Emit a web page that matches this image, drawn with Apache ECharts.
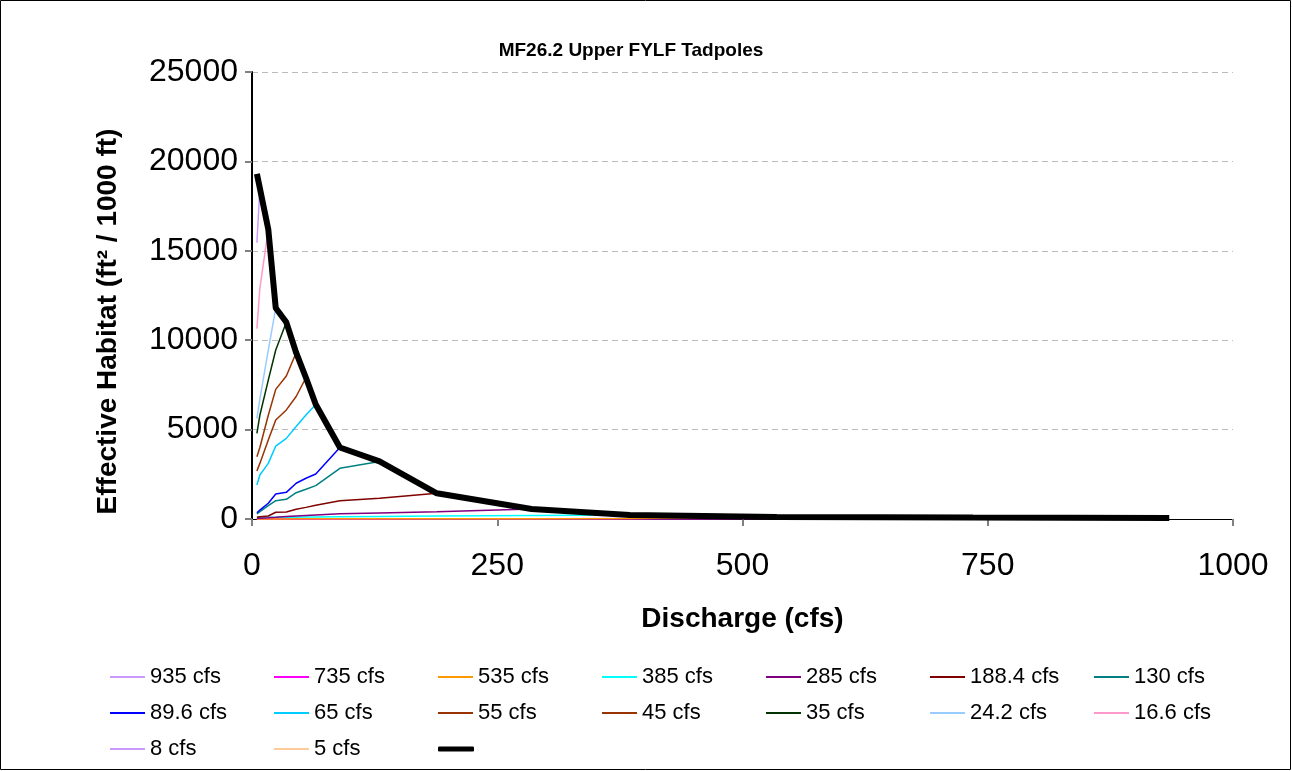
<!DOCTYPE html>
<html>
<head>
<meta charset="utf-8">
<script src="https://cdn.jsdelivr.net/npm/echarts@6/dist/echarts.min.js"></script>
<style>
html,body{margin:0;padding:0;background:#fff;}
#chart{width:1292px;height:771px;}
</style>
</head>
<body>
<div id="chart"></div>
<script>
// Discharge points (cfs)
const Q = [5, 8, 16.6, 24.2, 35, 45, 55, 65, 89.6, 130, 188.4, 285, 385, 535, 735, 935];
// Effective habitat per series (values at Q[0..n])
const h935 = [0, 0, 0, 0, 0, 0, 0, 0, 5, 10, 15, 20, 25, 35, 50, 60];
const h735 = [0, 0, 0, 0, 0, 0, 0, 0, 3, 5, 8, 10, 12, 30, 80];
const h535 = [5, 5, 5, 6, 6, 7, 7, 8, 10, 12, 15, 20, 25, 110];
const h385 = [90, 92, 95, 98, 100, 103, 106, 110, 120, 140, 165, 195, 225];
const h285 = [40, 45, 70, 95, 140, 170, 200, 230, 290, 340, 400, 560];
const h188 = [95, 130, 170, 375, 390, 540, 650, 765, 1025, 1155, 1440];
const h130 = [280, 410, 745, 1025, 1100, 1470, 1660, 1865, 2835, 3220];
const h89 = [350, 500, 880, 1400, 1490, 2000, 2280, 2520, 4000];
const h65 = [1900, 2460, 3110, 4080, 4510, 5170, 5820, 6400];
const h55 = [2685, 3110, 4420, 5540, 6100, 6850, 7900];
const h45 = [3485, 4000, 5800, 7250, 8000, 9300];
const h35 = [4790, 5800, 7770, 9450, 11000];
const h24 = [5630, 6700, 9450, 11800];
const h16 = [10650, 12900, 16200];
const h8 = [15450, 18500];
const h5 = [19300];
const envelope = [19300, 18500, 16200, 11800, 11000, 9300, 7900, 6400, 4000, 3220, 1440, 560, 225, 110, 80, 60];

const seriesNames = ['935 cfs','735 cfs','535 cfs','385 cfs','285 cfs','188.4 cfs','130 cfs','89.6 cfs','65 cfs','55 cfs','45 cfs','35 cfs','24.2 cfs','16.6 cfs','8 cfs','5 cfs',' '];
const seriesVals = [h935,h735,h535,h385,h285,h188,h130,h89,h65,h55,h45,h35,h24,h16,h8,h5,envelope];
const seriesColors = ['#CC99FF','#FF00FF','#FF9900','#00FFFF','#800080','#800000','#008080','#0000FF','#00CCFF','#993300','#993300','#003300','#99CCFF','#FF99CC','#CC99FF','#FFCC99','#000000'];
const xTicks = [0, 250, 500, 750, 1000];
const yTicks = [0, 5000, 10000, 15000, 20000, 25000];

const FONT = '"Liberation Sans", Arial, sans-serif';
const last = seriesNames.length - 1;

const series = seriesNames.map((n, i) => ({
  name: n,
  type: 'line',
  data: seriesVals[i].map((v, k) => [Q[k], v]),
  symbol: 'none',
  showSymbol: false,
  clip: false,
  lineStyle: { color: seriesColors[i], width: i === last ? 6 : 1.5 },
  itemStyle: { color: seriesColors[i] },
  z: 2 + i
}));

const chart = echarts.init(document.getElementById('chart'), null, { renderer: 'canvas' });
chart.setOption({
  animation: false,
  backgroundColor: '#fff',
  graphic: [{
    type: 'rect', silent: true, z: 100,
    shape: { x: 0.5, y: 0.5, width: 1290, height: 769 },
    style: { fill: 'none', stroke: '#000', lineWidth: 1 }
  }],
  title: {
    text: 'MF26.2 Upper FYLF Tadpoles',
    left: 626, top: 36,
    textAlign: 'center',
    textStyle: { fontFamily: FONT, fontWeight: 'bold', fontSize: 19, color: '#000' }
  },
  grid: { left: 252, right: 59, top: 72, bottom: 252, containLabel: false },
  xAxis: {
    type: 'value', min: xTicks[0], max: xTicks[xTicks.length - 1], interval: 250,
    name: 'Discharge (cfs)', nameLocation: 'middle', nameGap: 86,
    nameTextStyle: { fontFamily: FONT, fontWeight: 'bold', fontSize: 28, color: '#000' },
    axisLine: { show: true, lineStyle: { color: '#000', width: 1 } },
    axisTick: { show: true, length: 7, lineStyle: { color: '#808080', width: 2 } },
    axisLabel: { margin: 31, fontFamily: FONT, fontSize: 32, color: '#000', formatter: v => String(v) },
    splitLine: { show: false }
  },
  yAxis: {
    type: 'value', min: yTicks[0], max: yTicks[yTicks.length - 1], interval: 5000,
    name: 'Effective Habitat (ft² / 1000 ft)', nameLocation: 'middle', nameGap: 130,
    nameTextStyle: { fontFamily: FONT, fontWeight: 'bold', fontSize: 28, color: '#000', padding: [0, 52, 0, 0] },
    axisLine: { show: true, lineStyle: { color: '#000', width: 2 } },
    axisTick: { show: true, length: 7, lineStyle: { color: '#808080', width: 2 } },
    axisLabel: { margin: 14, fontFamily: FONT, fontSize: 32, color: '#000', formatter: v => String(v) },
    splitLine: { show: true, lineStyle: { color: '#BBBBBB', type: [6, 4], width: 1 } }
  },
  legend: [{
    left: 110, top: 666, width: 1170, padding: 0,
    orient: 'horizontal',
    icon: 'rect',
    itemWidth: 35, itemHeight: 2, itemGap: 14,
    textStyle: { fontFamily: FONT, fontSize: 22, color: '#000', width: 110, lineHeight: 22 },
    data: seriesNames.slice(0, last)
  }, {
    left: 438, top: 738, padding: 0,
    orient: 'horizontal',
    icon: 'roundRect',
    itemWidth: 36, itemHeight: 5, itemGap: 14,
    textStyle: { fontFamily: FONT, fontSize: 22, color: '#000', lineHeight: 22 },
    data: [seriesNames[last]]
  }],
  series: series
});
</script>
</body>
</html>
